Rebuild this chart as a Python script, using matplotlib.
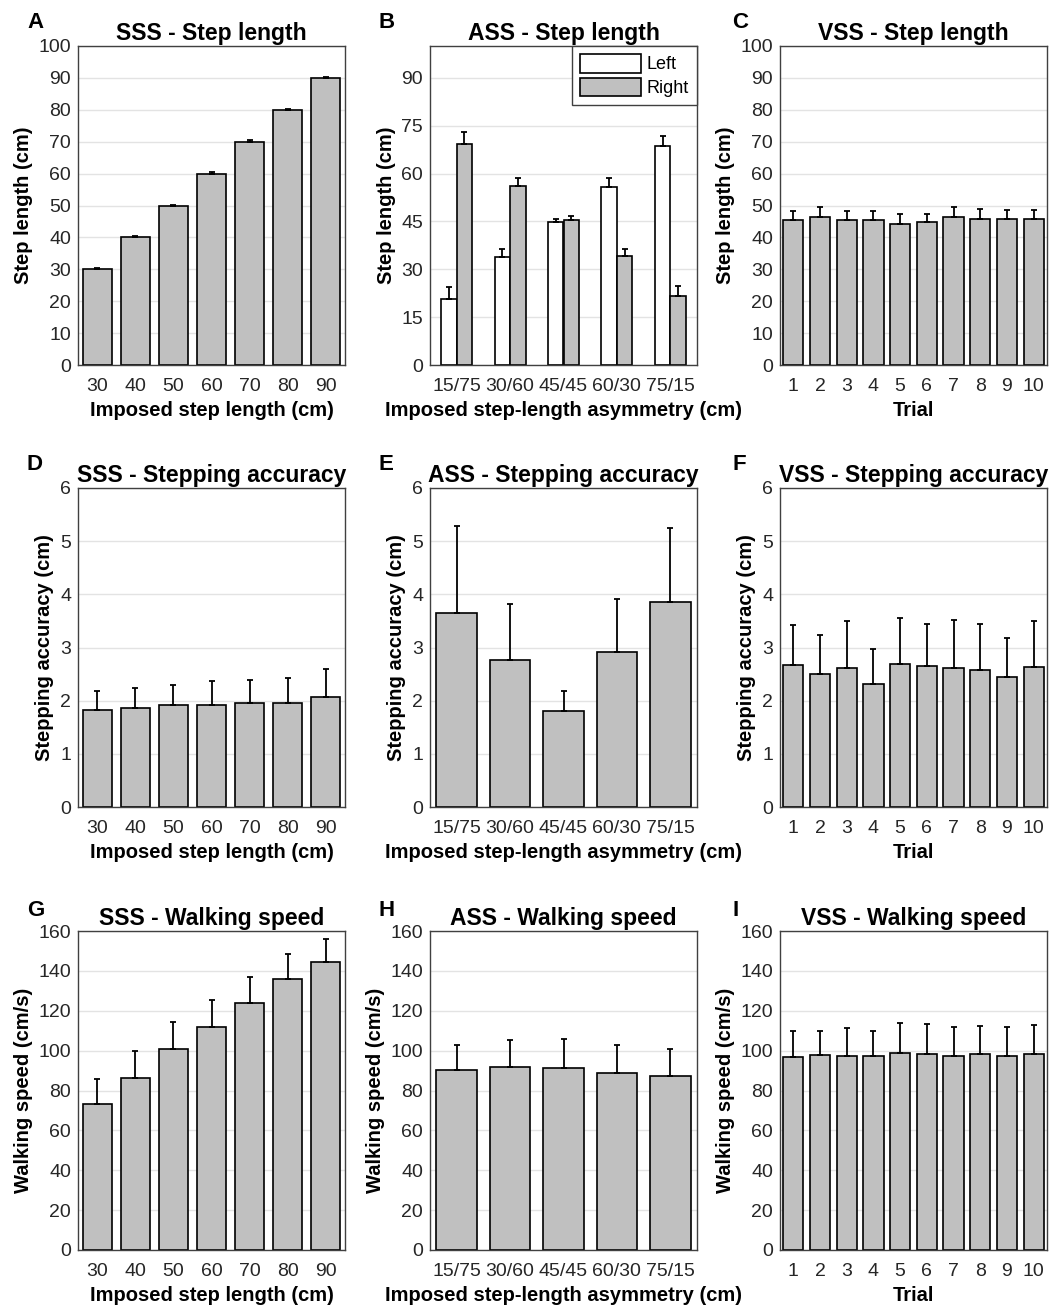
import numpy as np
import matplotlib as mpl
import matplotlib.pyplot as plt

# categories
step_lengths = ['30', '40', '50', '60', '70', '80', '90']
asym_labels = ['15/75', '30/60', '45/45', '60/30', '75/15']
trials = [str(i) for i in range(1, 11)]

# step length (cm)
sss_step = [30.0, 40.0, 50.0, 60.0, 70.0, 80.0, 90.0]
sss_step_err = [0.3, 0.3, 0.2, 0.4, 0.4, 0.4, 0.3]
ass_left = [20.7, 33.9, 44.7, 55.9, 68.7]
ass_left_err = [3.8, 2.5, 1.2, 2.6, 3.1]
ass_right = [69.4, 56.2, 45.4, 34.2, 21.6]
ass_right_err = [3.7, 2.5, 1.4, 2.3, 3.1]
vss_step = [45.6, 46.4, 45.4, 45.6, 44.2, 44.8, 46.3, 45.7, 45.9, 45.9]
vss_step_err = [2.7, 3.0, 2.8, 2.8, 3.1, 2.5, 3.1, 3.2, 2.8, 2.6]

# stepping accuracy (cm)
sss_acc = [1.82, 1.87, 1.91, 1.92, 1.96, 1.96, 2.07]
sss_acc_err = [0.37, 0.36, 0.39, 0.45, 0.42, 0.46, 0.53]
ass_acc = [3.64, 2.77, 1.81, 2.91, 3.85]
ass_acc_err = [1.64, 1.05, 0.38, 1.00, 1.39]
vss_acc = [2.67, 2.50, 2.62, 2.32, 2.69, 2.65, 2.62, 2.57, 2.45, 2.64]
vss_acc_err = [0.75, 0.73, 0.87, 0.66, 0.86, 0.79, 0.90, 0.88, 0.73, 0.86]

# walking speed (cm/s)
sss_speed = [73.0, 86.5, 100.9, 111.8, 123.8, 135.7, 144.3]
sss_speed_err = [12.7, 13.4, 13.7, 13.7, 13.1, 12.6, 11.7]
ass_speed = [90.5, 91.9, 91.4, 89.0, 87.5]
ass_speed_err = [12.1, 13.4, 14.2, 13.9, 13.4]
vss_speed = [96.7, 97.7, 97.2, 97.4, 98.7, 98.2, 97.2, 98.1, 97.4, 98.1]
vss_speed_err = [13.1, 12.1, 13.9, 12.6, 15.3, 15.3, 14.7, 14.2, 14.2, 14.7]

# configuration
mpl.rcParams['font.family'] = ['Liberation Sans', 'DejaVu Sans']
mpl.rcParams['font.size'] = 13
mpl.rcParams['xtick.labelsize'] = 14
mpl.rcParams['ytick.labelsize'] = 14
mpl.rcParams['xtick.color'] = '#262626'
mpl.rcParams['ytick.color'] = '#262626'

bar_color = '#c0c0c0'
W, H = 1057, 1311
fig = plt.figure(figsize=(W / 100, H / 100), dpi=100)

col_left = [78, 430, 780]
row_top = [46, 488, 931]
ax_w, ax_h = 267, 319


def make_ax(r, c):
    x0 = col_left[c] / W
    y0 = 1 - (row_top[r] + ax_h) / H
    ax = fig.add_axes([x0, y0, ax_w / W, ax_h / H])
    ax.set_axisbelow(True)
    ax.yaxis.grid(True, color='#e3e3e3', linewidth=1)
    ax.tick_params(axis='y', length=0, pad=5)
    ax.tick_params(axis='x', length=0, pad=9.5)
    for s in ax.spines.values():
        s.set_color('#404040')
        s.set_linewidth(1.0)
    return ax


def bars(ax, labels, vals, errs, width=0.76):
    x = np.arange(len(vals))
    ax.bar(x, vals, width=width, color=bar_color, edgecolor='black', linewidth=1.2, zorder=2)
    ax.errorbar(x, vals, yerr=[np.zeros(len(errs)), errs], fmt='none', ecolor='black',
                elinewidth=1.3, capsize=2.5, capthick=1.3, zorder=3)
    ax.set_xticks(x)
    ax.set_xticklabels(labels)
    ax.set_xlim(-0.5, len(vals) - 0.5)


def finish(ax, title, ylabel, xlabel, ylim, yticks):
    ax.set_ylim(*ylim)
    ax.set_yticks(yticks)
    ax.set_title(title, fontsize=16.5, fontweight='bold', pad=4)
    ax.set_ylabel(ylabel, fontsize=14.5, fontweight='bold', labelpad=4)
    ax.set_xlabel(xlabel, fontsize=14.5, fontweight='bold', labelpad=4)


# row 1 - step length
ax = make_ax(0, 0)
bars(ax, step_lengths, sss_step, sss_step_err)
finish(ax, 'SSS - Step length', 'Step length (cm)', 'Imposed step length (cm)', (0, 100), range(0, 101, 10))

ax = make_ax(0, 1)
x = np.arange(len(asym_labels))
bw = 0.29
ax.bar(x - bw / 2, ass_left, width=bw, color='white', edgecolor='black', linewidth=1.2, zorder=2, label='Left')
ax.bar(x + bw / 2, ass_right, width=bw, color=bar_color, edgecolor='black', linewidth=1.2, zorder=2, label='Right')
ax.errorbar(x - bw / 2, ass_left, yerr=[np.zeros(5), ass_left_err], fmt='none', ecolor='black',
            elinewidth=1.3, capsize=2.5, capthick=1.3, zorder=3)
ax.errorbar(x + bw / 2, ass_right, yerr=[np.zeros(5), ass_right_err], fmt='none', ecolor='black',
            elinewidth=1.3, capsize=2.5, capthick=1.3, zorder=3)
ax.set_xticks(x)
ax.set_xticklabels(asym_labels)
ax.set_xlim(-0.5, 4.5)
finish(ax, 'ASS - Step length', 'Step length (cm)', 'Imposed step-length asymmetry (cm)', (0, 100), range(0, 91, 15))
leg = ax.legend(loc='upper right', fontsize=13, fancybox=False, framealpha=1, edgecolor='#404040',
                borderaxespad=0, handlelength=3.4, handleheight=1.2, handletextpad=0.3,
                labelspacing=0.25, borderpad=0.45)
leg.get_frame().set_linewidth(1.0)

ax = make_ax(0, 2)
bars(ax, trials, vss_step, vss_step_err)
finish(ax, 'VSS - Step length', 'Step length (cm)', 'Trial', (0, 100), range(0, 101, 10))

# row 2 - stepping accuracy
ax = make_ax(1, 0)
bars(ax, step_lengths, sss_acc, sss_acc_err)
finish(ax, 'SSS - Stepping accuracy', 'Stepping accuracy (cm)', 'Imposed step length (cm)', (0, 6), range(0, 7))

ax = make_ax(1, 1)
bars(ax, asym_labels, ass_acc, ass_acc_err)
finish(ax, 'ASS - Stepping accuracy', 'Stepping accuracy (cm)', 'Imposed step-length asymmetry (cm)', (0, 6), range(0, 7))

ax = make_ax(1, 2)
bars(ax, trials, vss_acc, vss_acc_err)
finish(ax, 'VSS - Stepping accuracy', 'Stepping accuracy (cm)', 'Trial', (0, 6), range(0, 7))

# row 3 - walking speed
ax = make_ax(2, 0)
bars(ax, step_lengths, sss_speed, sss_speed_err)
finish(ax, 'SSS - Walking speed', 'Walking speed (cm/s)', 'Imposed step length (cm)', (0, 160), range(0, 161, 20))

ax = make_ax(2, 1)
bars(ax, asym_labels, ass_speed, ass_speed_err)
finish(ax, 'ASS - Walking speed', 'Walking speed (cm/s)', 'Imposed step-length asymmetry (cm)', (0, 160), range(0, 161, 20))

ax = make_ax(2, 2)
bars(ax, trials, vss_speed, vss_speed_err)
finish(ax, 'VSS - Walking speed', 'Walking speed (cm/s)', 'Trial', (0, 160), range(0, 161, 20))

# panel letters
letters = ['A', 'B', 'C', 'D', 'E', 'F', 'G', 'H', 'I']
letter_x = [27, 378, 732]
letter_y = [12, 454, 900]
for i, lt in enumerate(letters):
    fig.text(letter_x[i % 3] / W, 1 - letter_y[i // 3] / H, lt, fontsize=16, fontweight='bold',
             ha='left', va='top')

plt.savefig('out.png', dpi=100)
